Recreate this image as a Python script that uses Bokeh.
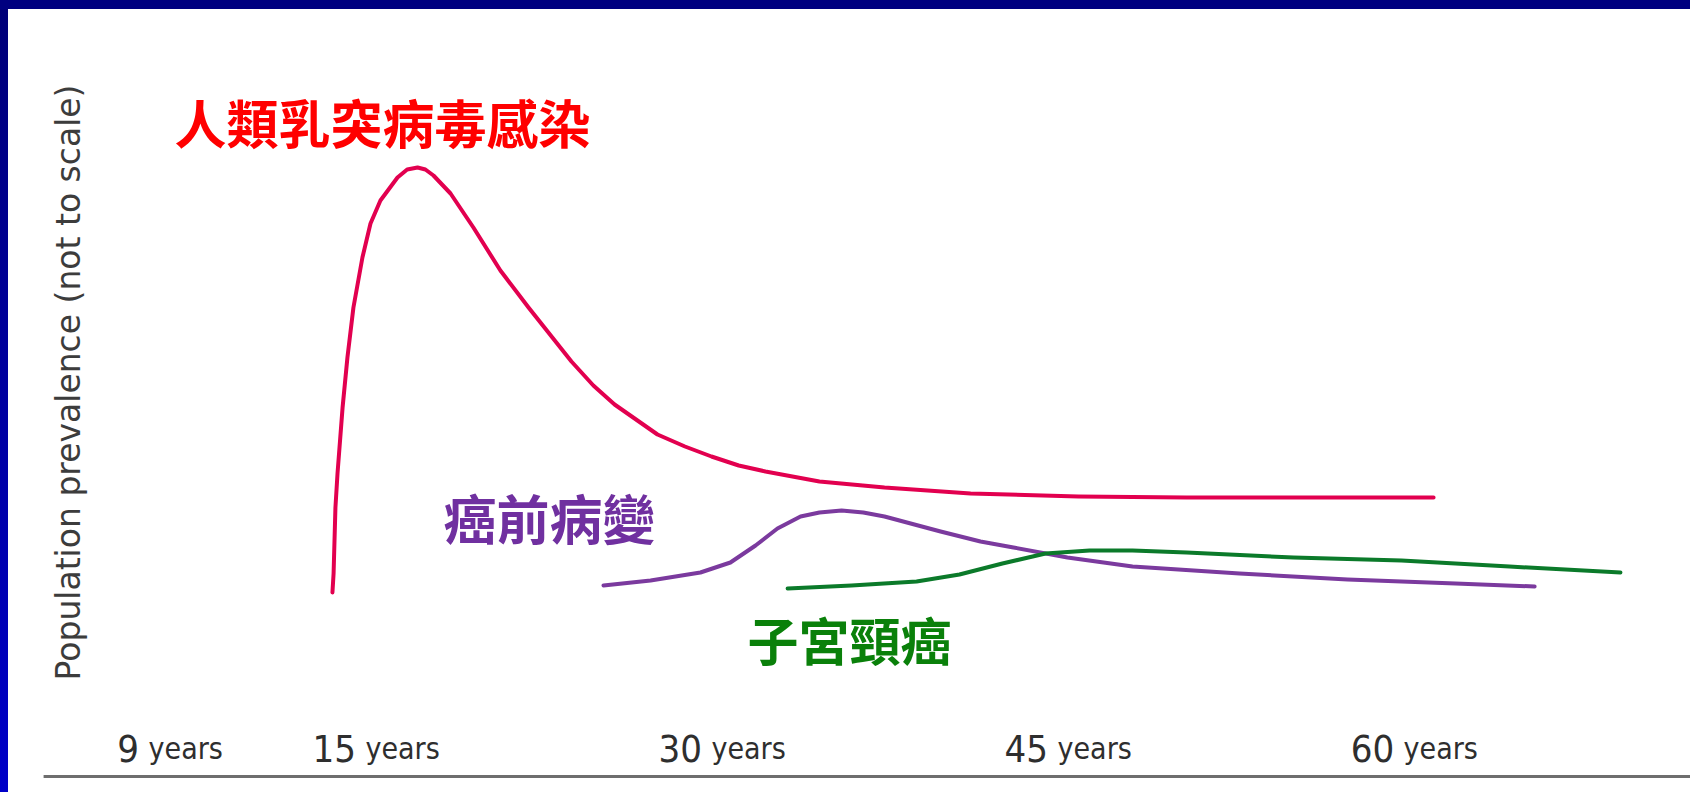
import math
from bokeh.plotting import figure
from bokeh.models import Range1d
from bokeh.core.properties import value
from bokeh.embed import file_html
from bokeh.resources import INLINE

# ---- data (schematic) ----
# x: age position on the schematic axis, y: prevalence (arbitrary units, not to scale)
hpv_age = [13.09, 13.14, 13.22, 13.31, 13.53, 13.74, 14.00, 14.39, 14.74, 15.17, 15.91, 16.33,
           16.78, 17.12, 17.47, 18.21, 19.20, 20.37, 21.59, 23.45, 24.40, 25.32, 27.18, 28.37,
           29.52, 30.70, 31.86, 34.20, 37.02, 40.75, 45.43, 50.11, 54.75, 60.82]
hpv_prev = [191, 210, 276, 310, 376, 426, 476, 526, 560, 583, 606, 614,
            616, 614, 608, 590, 556, 513, 476, 422, 398, 379, 349, 337,
            327, 318, 312, 302, 296, 290, 287, 286, 286, 286]

precancer_age = [24.84, 26.88, 29.04, 30.34, 31.43, 32.38, 33.38, 34.20, 35.16, 36.10, 37.02,
                 39.45, 41.18, 42.61, 44.95, 47.77, 52.41, 57.09, 61.77, 65.20]
precancer_prev = [198, 203, 211, 221, 238, 255, 267, 271, 273, 271, 267,
                  252, 242, 236, 226, 217, 210, 204, 200, 197]

cancer_age = [32.82, 35.59, 38.41, 40.27, 42.13, 44.00, 45.91, 47.77, 50.11, 54.75, 59.43,
              64.11, 68.92]
cancer_prev = [195, 198, 202, 209, 220, 230, 233, 233, 231, 226, 223, 217, 211]

tick_numbers = ["9", "15", "30", "45", "60"]
tick_unit = "years"
tick_pos = [5.6, 15, 30, 45, 60]

series_names = ["人類乳突病毒感染", "癌前病變", "子宮頸癌"]
series_label_x = [6.24, 17.90, 31.08]
series_label_y = [662, 267, 145]

y_title = "Population prevalence (not to scale)"

# ---- figure ----
p = figure(width=1682, height=783, output_backend="svg", toolbar_location=None,
           x_range=Range1d(-0.951, 71.956), y_range=Range1d(-9, 774),
           x_axis_type=None, y_axis_type=None, min_border=0)
p.outline_line_color = None
p.background_fill_color = "white"
p.border_fill_color = "white"
p.xgrid.visible = False
p.ygrid.visible = False

# baseline
p.segment(x0=[0.57], y0=[7], x1=[71.956], y1=[7], line_color="#6e6e6e", line_width=3)

# curves
p.line(hpv_age, hpv_prev, line_color="#E2004F", line_width=4, line_join="round", line_cap="round")
p.line(precancer_age, precancer_prev, line_color="#7B3A9E", line_width=4, line_join="round", line_cap="round")
p.line(cancer_age, cancer_prev, line_color="#0B7A2A", line_width=4, line_join="round", line_cap="round")

# series labels
label_colors = ["#FF0000", "#7030A0", "#0A800A"]
label_sizes = ["52px", "53px", "51px"]
for name, lx, ly, c, s in zip(series_names, series_label_x, series_label_y, label_colors, label_sizes):
    p.text(x=[lx], y=[ly], text=[name], text_color=c, text_font=value("Noto Sans CJK TC"),
           text_font_size=s, text_font_style="bold", text_align="left", text_baseline="middle")

# tick labels (number larger than unit), sharing one baseline
num_x = [t - 0.89 for t in tick_pos]
unit_x = [t - 0.48 for t in tick_pos]
p.text(x=num_x, y=[35] * len(tick_pos), text=tick_numbers, text_color="#2e2e2e",
       text_font=value("DejaVu Sans Condensed"),
       text_font_size="38px", text_align="right", text_baseline="alphabetic")
p.text(x=unit_x, y=[35] * len(tick_pos), text=[tick_unit] * len(tick_pos), text_color="#2e2e2e",
       text_font=value("DejaVu Sans Condensed"),
       text_font_size="30px", text_align="left", text_baseline="alphabetic")

# y title
p.text(x=[1.65], y=[401], text=[y_title], angle=math.pi / 2, text_color="#3c3c3c",
       text_font=value("DejaVu Sans"), text_font_size="33px",
       text_align="center", text_baseline="middle")

template = """
{% block preamble %}
<style>
html { background:
  linear-gradient(#000080, #000080) 0 0 / 100% 9px no-repeat,
  linear-gradient(to bottom, #000078, #0000C8) 0 0 / 8px 100% no-repeat,
  #ffffff; }
html, body { overflow: hidden !important; }
body { margin: 9px 0 0 8px !important; height: auto !important; }
</style>
{% endblock %}
"""

open("out.html", "w").write(file_html(p, INLINE, template=template))
